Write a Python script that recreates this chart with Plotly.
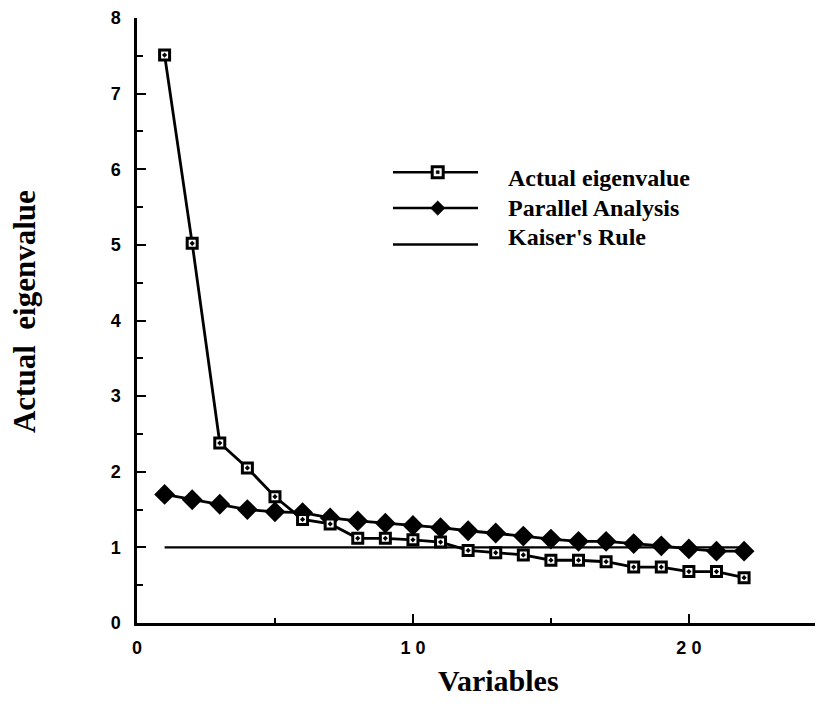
import plotly.graph_objects as go

# ---- data ----
variables = list(range(1, 23))
actual_eigenvalue = [7.51, 5.02, 2.38, 2.05, 1.67, 1.37, 1.31, 1.12, 1.12, 1.10, 1.07,
                     0.96, 0.93, 0.90, 0.83, 0.83, 0.81, 0.74, 0.74, 0.68, 0.68, 0.60]
parallel_analysis = [1.70, 1.63, 1.57, 1.50, 1.47, 1.46, 1.39, 1.35, 1.32, 1.29, 1.26,
                     1.22, 1.19, 1.15, 1.11, 1.08, 1.08, 1.05, 1.02, 0.98, 0.95, 0.95]
kaiser_x = [1, 22]
kaiser_y = [1.0, 1.0]

x_tickvals = [0, 10, 20]
x_ticktext = ["0", "1 0", "2 0"]
y_tickvals = [0, 1, 2, 3, 4, 5, 6, 7, 8]
y_ticktext = ["0", "1", "2", "3", "4", "5", "6", "7", "8"]

legend_names = ["Actual eigenvalue", "Parallel Analysis", "Kaiser's Rule"]

# ---- figure geometry (page has an 8px body margin) ----
OFF = 8
W, H = 815, 708
ML, MR, MT, MB = 129, 0, 8, 93
PW, PH = W - ML - MR, H - MT - MB

def px_to_paper_x(px):
    return (px - OFF - ML) / PW

def px_to_paper_y(py):
    return (H - MB - (py - OFF)) / PH

fig = go.Figure()

fig.add_trace(go.Scatter(
    x=kaiser_x, y=kaiser_y, mode="lines", name=legend_names[2],
    line=dict(color="black", width=2.4), showlegend=False))

fig.add_trace(go.Scatter(
    x=variables, y=parallel_analysis, mode="lines+markers", name=legend_names[1],
    line=dict(color="black", width=2.8),
    marker=dict(symbol="diamond", size=16, color="black", line=dict(width=0)),
    showlegend=False))

fig.add_trace(go.Scatter(
    x=variables, y=actual_eigenvalue, mode="lines+markers", name=legend_names[0],
    line=dict(color="black", width=2.8),
    marker=dict(symbol="square-dot", size=10, color="white",
                line=dict(color="black", width=3)),
    showlegend=False))

tick_font = dict(family="Liberation Sans, Arial, sans-serif", size=18, color="black",
                 weight="bold")
xtitle_font = dict(family="Liberation Serif, Times New Roman, serif", size=30, color="black")
ytitle_font = dict(family="Liberation Serif, Times New Roman, serif", size=31, color="black")

fig.update_xaxes(
    range=[0, 24.86], showline=True, linewidth=2.5, linecolor="black",
    showgrid=False, zeroline=False,
    tickmode="array", tickvals=x_tickvals, ticktext=x_ticktext,
    ticks="inside", ticklen=9, tickwidth=2, tickcolor="black",
    minor=dict(dtick=5, tick0=0, ticks="inside", ticklen=5, tickwidth=2, tickcolor="black"),
    tickfont=tick_font, ticklabelstandoff=7, ticklabeloverflow="allow")

fig.update_yaxes(
    range=[0, 8], showline=True, linewidth=2.5, linecolor="black",
    showgrid=False, zeroline=False,
    tickmode="array", tickvals=y_tickvals, ticktext=y_ticktext,
    ticks="inside", ticklen=9, tickwidth=2, tickcolor="black",
    minor=dict(dtick=0.5, tick0=0, ticks="inside", ticklen=6, tickwidth=2, tickcolor="black"),
    tickfont=tick_font, ticklabelstandoff=10, ticklabeloverflow="allow")

annotations = [
    dict(text="<b>Variables</b>", x=px_to_paper_x(498), y=px_to_paper_y(681),
         xref="paper", yref="paper", showarrow=False, xanchor="center", yanchor="middle",
         font=xtitle_font),
    dict(text="<b>Actual  eigenvalue</b>", x=px_to_paper_x(24), y=px_to_paper_y(311),
         xref="paper", yref="paper", showarrow=False, xanchor="center", yanchor="middle",
         textangle=-90, font=ytitle_font),
]

# ---- custom legend (long sample lines like the reference) ----
legend_font = dict(family="Liberation Serif, Times New Roman, serif", size=24, color="black")
line_y = [170.7, 206.7, 243.3]
text_y = [177, 207, 236]
lx0, lx1, mx, tx = 393, 478, 437.7, 506
shapes = []
for i in range(3):
    y0 = px_to_paper_y(line_y[i])
    shapes.append(dict(type="line", xref="paper", yref="paper",
                       x0=px_to_paper_x(lx0), x1=px_to_paper_x(lx1), y0=y0, y1=y0,
                       line=dict(color="black", width=2.6)))
    annotations.append(dict(text="<b>%s</b>" % legend_names[i], x=px_to_paper_x(tx),
                            y=px_to_paper_y(text_y[i]), xref="paper", yref="paper",
                            showarrow=False, xanchor="left", yanchor="middle",
                            font=legend_font))

# square glyph with center dot
s = 5.5
shapes.append(dict(type="rect", xref="paper", yref="paper",
                   x0=px_to_paper_x(mx - s), x1=px_to_paper_x(mx + s),
                   y0=px_to_paper_y(line_y[0] + s), y1=px_to_paper_y(line_y[0] - s),
                   fillcolor="white", line=dict(color="black", width=3)))
d = 1.5
shapes.append(dict(type="rect", xref="paper", yref="paper",
                   x0=px_to_paper_x(mx - d), x1=px_to_paper_x(mx + d),
                   y0=px_to_paper_y(line_y[0] + d), y1=px_to_paper_y(line_y[0] - d),
                   fillcolor="black", line=dict(color="black", width=0.5)))
# diamond glyph
r = 7
cx, cy = mx, line_y[1]
pts = [(cx, cy - r), (cx + r, cy), (cx, cy + r), (cx - r, cy)]
path = "M " + " L ".join("%f,%f" % (px_to_paper_x(a), px_to_paper_y(b)) for a, b in pts) + " Z"
shapes.append(dict(type="path", xref="paper", yref="paper", path=path,
                   fillcolor="black", line=dict(color="black", width=1)))

fig.update_layout(
    width=W, height=H, autosize=False,
    margin=dict(l=ML, r=MR, t=MT, b=MB, pad=0),
    paper_bgcolor="white", plot_bgcolor="white",
    showlegend=False,
    annotations=annotations, shapes=shapes,
)

fig.write_html("out.html")
